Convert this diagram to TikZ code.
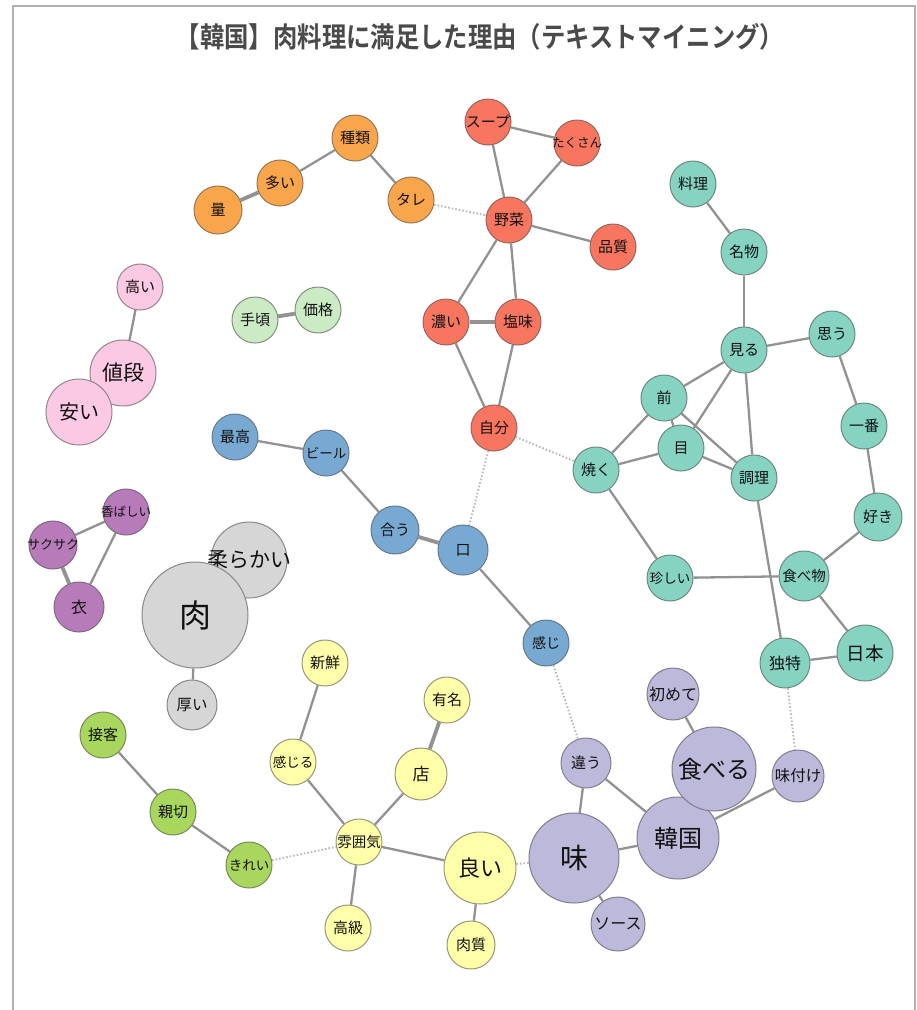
\documentclass[tikz,border=0pt]{standalone}
\usepackage{fontspec}
\usepackage{graphicx}
\setmainfont{Noto Sans CJK JP}
\newfontfamily\titlefont{Noto Sans CJK JP Bold}
\usetikzlibrary{backgrounds}
\definecolor{corange}{HTML}{F9A54B}
\definecolor{cred}{HTML}{F8755F}
\definecolor{clgreen}{HTML}{CAEBC4}
\definecolor{cpink}{HTML}{FBC9E3}
\definecolor{cblue}{HTML}{78A9D2}
\definecolor{cpurple}{HTML}{B87BBA}
\definecolor{cgray}{HTML}{D6D6D6}
\definecolor{cteal}{HTML}{86D3C2}
\definecolor{clime}{HTML}{A9D65C}
\definecolor{cyellow}{HTML}{FFFFAA}
\definecolor{cviolet}{HTML}{BDB9DB}
\definecolor{ecol}{HTML}{929292}
\definecolor{dcol}{HTML}{B8B8B8}
\definecolor{framecol}{HTML}{B0B0B0}
\definecolor{txt}{HTML}{111111}
\definecolor{titlecol}{HTML}{4A4A4A}
\newcommand\fsz[1]{\fontsize{#1}{#1}\selectfont}
\newcommand\lbl[1]{\makebox[0pt]{#1}}
\tikzset{
  bub/.style={circle, inner sep=0pt, fill=#1, draw=#1!45!black!75, line width=1pt, text=txt, font=\fsz{15}},
  r23/.style={minimum size=46pt},
  edge/.style={draw=ecol, line width=2.3pt},
  thick edge/.style={draw=ecol, line width=3.8pt},
  dot edge/.style={draw=dcol, line width=1.9pt, dash pattern=on 1.6pt off 2pt},
}
\begin{document}
\begin{tikzpicture}[x=1pt,y=-1pt]
\useasboundingbox (0,0) rectangle (917,1010);
\draw[framecol, line width=1.4pt] (13,1010) -- (13,6) -- (915,6) -- (915,1010);
\node[font=\titlefont\fsz{28}, text=titlecol] (title) at (480,37) {\scalebox{0.87}[1]{【韓国】肉料理に満足した理由（テキストマイニング）}};
% orange
\node[bub=corange, r23] (shu) at (355,138) {\lbl{種類}};
\node[bub=corange, r23] (oi) at (280,183) {\lbl{多い}};
\node[bub=corange, minimum size=48pt] (ryo) at (218,210) {\lbl{量}};
\node[bub=corange, r23] (tare) at (411,200) {\lbl{タレ}};
% red
\node[bub=cred, r23] (soup) at (488,122) {\lbl{スープ}};
\node[bub=cred, r23, font=\fsz{12.5}] (takusan) at (577,143) {\lbl{たくさん}};
\node[bub=cred, r23] (yasai) at (509,220) {\lbl{野菜}};
\node[bub=cred, r23] (hinshitsu) at (613,247) {\lbl{品質}};
\node[bub=cred, r23] (koi) at (446,322) {\lbl{濃い}};
\node[bub=cred, r23] (shiomi) at (518,322) {\lbl{塩味}};
\node[bub=cred, r23] (jibun) at (494,428) {\lbl{自分}};
% light green
\node[bub=clgreen, r23] (tegoro) at (255,320) {\lbl{手頃}};
\node[bub=clgreen, r23] (kakaku) at (318,310) {\lbl{価格}};
% pink
\node[bub=cpink, r23] (takai) at (140,287) {\lbl{高い}};
\node[bub=cpink, minimum size=66pt, font=\fsz{21}] (nedan) at (123,373) {\lbl{値段}};
\node[bub=cpink, minimum size=66pt, font=\fsz{20}] (yasui) at (79,412) {\lbl{安い}};
% blue
\node[bub=cblue, r23] (saiko) at (235,437) {\lbl{最高}};
\node[bub=cblue, r23, font=\fsz{13.5}] (beer) at (326,453) {\lbl{ビール}};
\node[bub=cblue, minimum size=48pt] (au) at (395,530) {\lbl{合う}};
\node[bub=cblue, minimum size=50pt] (kuchi) at (463,550) {\lbl{口}};
\node[bub=cblue, r23, font=\fsz{14}] (kanji) at (546,643) {\lbl{感じ}};
% purple
\node[bub=cpurple, r23, font=\fsz{12.5}] (kobashii) at (126,512) {\lbl{香ばしい}};
\node[bub=cpurple, minimum size=48pt, font=\fsz{13}] (saku) at (53,545) {\lbl{サクサク}};
\node[bub=cpurple, minimum size=50pt, font=\fsz{16}] (koromo) at (79,607) {\lbl{衣}};
% gray
\node[bub=cgray, minimum size=76pt, font=\fsz{21}] (yawaraka) at (249,560) {\lbl{柔らかい}};
\node[bub=cgray, minimum size=106pt, font=\fsz{32}] (niku) at (195,615) {\lbl{肉}};
\node[bub=cgray, minimum size=50pt, font=\fsz{15.5}] (atsui) at (192,705) {\lbl{厚い}};
% teal
\node[bub=cteal, r23] (ryori) at (693,184) {\lbl{料理}};
\node[bub=cteal, r23] (meibutsu) at (744,252) {\lbl{名物}};
\node[bub=cteal, r23] (miru) at (744,350) {\lbl{見る}};
\node[bub=cteal, r23] (omou) at (832,334) {\lbl{思う}};
\node[bub=cteal, r23] (mae) at (664,398) {\lbl{前}};
\node[bub=cteal, r23] (me) at (681,448) {\lbl{目}};
\node[bub=cteal, r23] (yaku) at (596,470) {\lbl{焼く}};
\node[bub=cteal, r23] (chori) at (754,478) {\lbl{調理}};
\node[bub=cteal, r23] (ichiban) at (864,426) {\lbl{一番}};
\node[bub=cteal, minimum size=48pt] (suki) at (878,517) {\lbl{好き}};
\node[bub=cteal, r23, font=\fsz{13.5}] (mezurashii) at (670,578) {\lbl{珍しい}};
\node[bub=cteal, minimum size=50pt, font=\fsz{14.5}] (tabemono) at (804,576) {\lbl{食べ物}};
\node[bub=cteal, minimum size=50pt, font=\fsz{16}] (dokutoku) at (785,663) {\lbl{独特}};
\node[bub=cteal, minimum size=56pt, font=\fsz{18.5}] (nihon) at (865,653) {\lbl{日本}};
% lime
\node[bub=clime, r23] (sekkyaku) at (103,735) {\lbl{接客}};
\node[bub=clime, r23] (shinsetsu) at (173,812) {\lbl{親切}};
\node[bub=clime, r23, font=\fsz{13.5}] (kirei) at (249,865) {\lbl{きれい}};
% yellow
\node[bub=cyellow, r23] (shinsen) at (325,663) {\lbl{新鮮}};
\node[bub=cyellow, r23, font=\fsz{13.5}] (kanjiru) at (293,762) {\lbl{感じる}};
\node[bub=cyellow, r23] (yumei) at (447,700) {\lbl{有名}};
\node[bub=cyellow, minimum size=52pt, font=\fsz{17}] (mise) at (421,774) {\lbl{店}};
\node[bub=cyellow, r23, font=\fsz{14.5}] (fun) at (359,842) {\lbl{雰囲気}};
\node[bub=cyellow, minimum size=72pt, font=\fsz{22}] (yoi) at (480,868) {\lbl{良い}};
\node[bub=cyellow, r23] (kokyu) at (348,928) {\lbl{高級}};
\node[bub=cyellow, minimum size=48pt] (nikushitsu) at (471,945) {\lbl{肉質}};
% violet
\node[bub=cviolet, minimum size=52pt, font=\fsz{16}] (hajimete) at (673,694) {\lbl{初めて}};
\node[bub=cviolet, minimum size=50pt, font=\fsz{15}] (chigau) at (586,763) {\lbl{違う}};
\node[bub=cviolet, minimum size=82pt, font=\fsz{24}] (kankoku) at (678,838) {\lbl{韓国}};
\node[bub=cviolet, minimum size=84pt, font=\fsz{24}] (taberu) at (714,769) {\lbl{食べる}};
\node[bub=cviolet, minimum size=52pt, font=\fsz{15.5}] (ajitsuke) at (798,776) {\lbl{味付け}};
\node[bub=cviolet, minimum size=90pt, font=\fsz{28}] (aji) at (574,858) {\lbl{味}};
\node[bub=cviolet, minimum size=54pt, font=\fsz{16}] (sauce) at (618,924) {\lbl{ソース}};
\begin{scope}[on background layer]
% orange
\draw[thick edge] (ryo) -- (oi);
\draw[edge] (oi) -- (shu);
\draw[edge] (shu) -- (tare);
\draw[dot edge] (tare) -- (yasai);
% red
\draw[edge] (soup) -- (takusan);
\draw[edge] (soup) -- (yasai);
\draw[edge] (takusan) -- (yasai);
\draw[edge] (yasai) -- (hinshitsu);
\draw[edge] (yasai) -- (koi);
\draw[edge] (yasai) -- (shiomi);
\draw[thick edge] (koi) -- (shiomi);
\draw[edge] (koi) -- (jibun);
\draw[edge] (shiomi) -- (jibun);
\draw[dot edge] (jibun) -- (yaku);
\draw[dot edge] (jibun) -- (kuchi);
% light green
\draw[thick edge] (tegoro) -- (kakaku);
% pink
\draw[edge] (takai) -- (nedan);
\draw[edge] (nedan) -- (yasui);
% blue
\draw[edge] (saiko) -- (beer);
\draw[edge] (beer) -- (au);
\draw[thick edge] (au) -- (kuchi);
\draw[edge] (kuchi) -- (kanji);
\draw[dot edge] (kanji) -- (chigau);
% purple
\draw[edge] (kobashii) -- (saku);
\draw[edge] (kobashii) -- (koromo);
\draw[thick edge] (saku) -- (koromo);
% gray
\draw[edge] (yawaraka) -- (niku);
\draw[edge] (niku) -- (atsui);
% teal
\draw[edge] (ryori) -- (meibutsu);
\draw[edge] (meibutsu) -- (miru);
\draw[edge] (miru) -- (omou);
\draw[edge] (miru) -- (mae);
\draw[edge] (miru) -- (me);
\draw[edge] (miru) -- (chori);
\draw[edge] (omou) -- (ichiban);
\draw[edge] (ichiban) -- (suki);
\draw[edge] (mae) -- (yaku);
\draw[edge] (mae) -- (me);
\draw[edge] (mae) -- (chori);
\draw[edge] (yaku) -- (me);
\draw[edge] (me) -- (chori);
\draw[edge] (yaku) -- (mezurashii);
\draw[edge] (mezurashii) -- (tabemono);
\draw[edge] (chori) -- (dokutoku);
\draw[edge] (suki) -- (tabemono);
\draw[edge] (tabemono) -- (nihon);
\draw[edge] (dokutoku) -- (nihon);
\draw[dot edge] (dokutoku) -- (ajitsuke);
% lime
\draw[edge] (sekkyaku) -- (shinsetsu);
\draw[edge] (shinsetsu) -- (kirei);
\draw[dot edge] (kirei) -- (fun);
% yellow
\draw[edge] (shinsen) -- (kanjiru);
\draw[edge] (kanjiru) -- (fun);
\draw[thick edge] (yumei) -- (mise);
\draw[edge] (mise) -- (fun);
\draw[edge] (fun) -- (yoi);
\draw[edge] (fun) -- (kokyu);
\draw[edge] (yoi) -- (nikushitsu);
\draw[dot edge] (yoi) -- (aji);
% violet
\draw[edge] (hajimete) -- (taberu);
\draw[edge] (chigau) -- (aji);
\draw[edge] (chigau) -- (kankoku);
\draw[edge] (taberu) -- (kankoku);
\draw[edge] (kankoku) -- (ajitsuke);
\draw[edge] (kankoku) -- (aji);
\draw[edge] (aji) -- (sauce);
\end{scope}
\end{tikzpicture}
\end{document}
